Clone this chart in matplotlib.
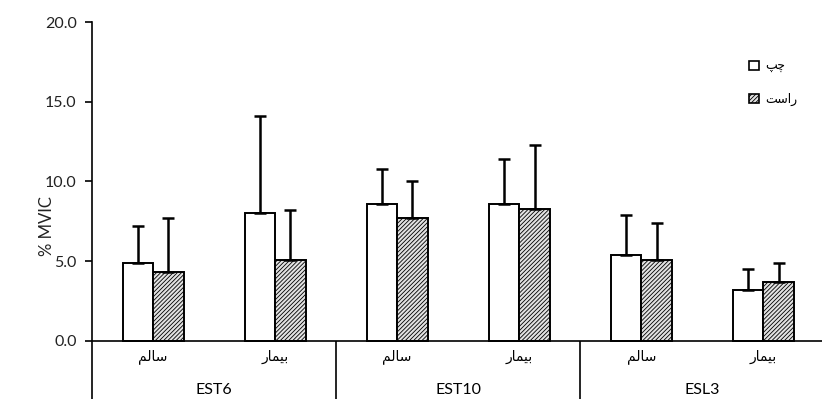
import numpy as np
import matplotlib
matplotlib.use('Agg')
import matplotlib.pyplot as plt
from matplotlib.patches import Patch

# Persian words written in presentation forms, visual (left-to-right) order
SALEM = '\uFEE2\uFEDF\uFE8E\uFEB3'        # سالم
BIMAR = '\uFEAD\uFE8E\uFEE4\uFBFF\uFE91'  # بیمار
CHAP = '\uFB57\uFB7C'                     # چپ
RAST = '\uFE96\uFEB3\uFE8D\uFEAD'         # راست

groups = ['EST6', 'EST10', 'ESL3']
conditions = [SALEM, BIMAR]
left_mean = [4.9, 8.0, 8.6, 8.6, 5.4, 3.2]
left_sd = [2.3, 6.1, 2.2, 2.8, 2.5, 1.3]
right_mean = [4.3, 5.1, 7.7, 8.3, 5.1, 3.7]
right_sd = [3.4, 3.1, 2.3, 4.0, 2.3, 1.2]
yticks = [0, 5, 10, 15, 20]

fams = ['Lato', 'DejaVu Sans']
plt.rcParams['font.family'] = fams
plt.rcParams['hatch.color'] = '#a8a8a8'
plt.rcParams['hatch.linewidth'] = 0.6

fig = plt.figure(figsize=(8.22, 3.99), dpi=100)
ax = fig.add_axes([92 / 822, 0.0, 730 / 822, 1 - 22 / 399])

x = np.arange(len(left_mean))
w = 0.25
n = len(x)
ax.bar(x - w / 2, left_mean, w, color='white', edgecolor='black', linewidth=1.4,
       yerr=[np.zeros(n), left_sd], capsize=4.5,
       error_kw=dict(elinewidth=1.8, capthick=1.8, ecolor='black'), zorder=3)
ax.bar(x + w / 2, right_mean, w, color='#e2e2e2', edgecolor='black', linewidth=1.4,
       hatch='////////', yerr=[np.zeros(n), right_sd], capsize=4.5,
       error_kw=dict(elinewidth=1.8, capthick=1.8, ecolor='black'), zorder=3)

ymin = -3.64
ax.set_ylim(ymin, 20)
ax.set_xlim(-0.5, 5.48)
ax.axhline(0, color='black', linewidth=1.2, zorder=4)
ax.vlines([1.5, 3.5], ymin, 0, color='black', linewidth=1.2)

for s in ['top', 'right', 'bottom']:
    ax.spines[s].set_visible(False)
ax.spines['left'].set_linewidth(1.2)
ax.set_xticks([])
ax.set_yticks(yticks)
ax.set_yticklabels(['%.1f' % t for t in yticks], fontsize=11.5, color='#222222')
ax.tick_params(axis='y', direction='out', length=5, width=1.2, pad=6)
ax.set_ylabel('% MVIC', fontsize=12, color='#222222')
ax.yaxis.set_label_coords(-0.05, 0.46)

# condition and group labels under the axis
for i in x:
    ax.text(i, -1.0, conditions[i % 2], ha='center', va='center', fontsize=10, family=fams)
for g, name in enumerate(groups):
    ax.text(2 * g + 0.5, -3.05, name, ha='center', va='center', fontsize=11.5, family=fams)

handles = [Patch(facecolor='white', edgecolor='black', linewidth=1.2, label=CHAP),
           Patch(facecolor='#e2e2e2', edgecolor='black', linewidth=1.2, hatch='////////', label=RAST)]
ax.legend(handles=handles, loc='upper left', bbox_to_anchor=(0.885, 0.93), frameon=False,
          handlelength=0.8, handleheight=0.8, handletextpad=0.5, labelspacing=1.6,
          prop={'family': fams, 'size': 9})

fig.savefig('out.png', dpi=100)
